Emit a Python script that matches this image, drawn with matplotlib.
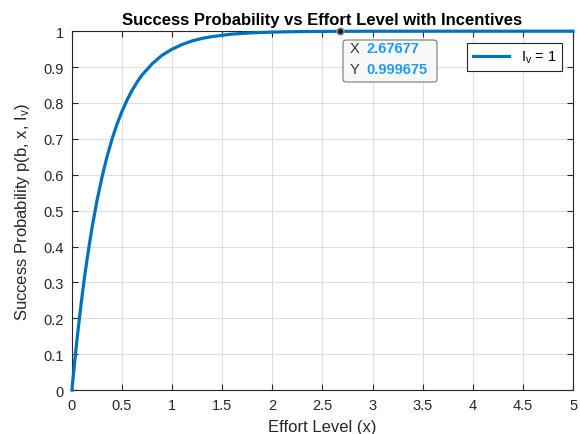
import matplotlib
matplotlib.use("Agg")
import matplotlib.pyplot as plt
from matplotlib.patches import FancyBboxPatch

plt.rcParams['font.family'] = ['Liberation Sans', 'DejaVu Sans']
plt.rcParams['mathtext.default'] = 'regular'

x_vals = [0, 0.0125, 0.025, 0.0375, 0.05, 0.075, 0.1, 0.125, 0.15, 0.175, 0.2, 0.25, 0.3, 0.35,
          0.4, 0.45, 0.5, 0.55, 0.6, 0.65, 0.7, 0.8, 0.9, 1.0, 1.1, 1.2, 1.3, 1.4, 1.6, 1.8,
          2.0, 2.3, 2.67677, 3.0, 3.5, 4.0, 4.5, 5.0]
y_vals = [0, 0.037, 0.072, 0.106, 0.139, 0.201, 0.259, 0.313, 0.362, 0.408, 0.451, 0.528,
          0.593, 0.650, 0.699, 0.741, 0.777, 0.808, 0.835, 0.858, 0.878, 0.909, 0.933, 0.950,
          0.963, 0.973, 0.980, 0.985, 0.992, 0.9955, 0.9975, 0.999, 0.999675, 0.9999, 1.0,
          1.0, 1.0, 1.0]
tip_x = 2.67677
tip_y = 0.999675

fig = plt.figure(figsize=(5.8, 4.35), dpi=100)
ax = fig.add_axes([0.124, 0.101, 0.864, 0.825])
ax.plot(x_vals, y_vals, color='#0072BD', lw=2.3, label='I$_v$ = 1', clip_on=False, zorder=3)
ax.set_xlim(0, 5)
ax.set_ylim(0, 1)
ax.set_xticks([0, 0.5, 1, 1.5, 2, 2.5, 3, 3.5, 4, 4.5, 5])
ax.set_xticklabels(['0', '0.5', '1', '1.5', '2', '2.5', '3', '3.5', '4', '4.5', '5'])
ax.set_yticks([i / 10 for i in range(11)])
ax.set_yticklabels(['0', '0.1', '0.2', '0.3', '0.4', '0.5', '0.6', '0.7', '0.8', '0.9', '1'])
ax.grid(True, color='#dedede', lw=0.8)
ax.set_axisbelow(True)
ax.tick_params(direction='in', length=4, labelsize=10.5, colors='#262626', top=True, right=True,
               labeltop=False, labelright=False, pad=6)
for s in ax.spines.values():
    s.set_color('#262626')
    s.set_linewidth(0.8)
ax.set_xlabel('Effort Level (x)', fontsize=12, color='#262626', labelpad=5)
ax.set_ylabel('Success Probability p(b, x, I$_v$)', fontsize=12, color='#262626', labelpad=8)
ax.set_title('Success Probability vs Effort Level with Incentives', fontsize=12,
             fontweight='bold', pad=5)

leg = ax.legend(loc='upper right', bbox_to_anchor=(0.993, 0.987), fontsize=10.5,
                fancybox=False, edgecolor='#262626', framealpha=1, handlelength=2.5)
leg.get_frame().set_linewidth(0.8)

ax.plot([tip_x], [tip_y], 'o', ms=5, mfc='#222222', mec='#999999', clip_on=False, zorder=5)
box = FancyBboxPatch((343 / 580, 1 - 83 / 435), 94 / 580, 42 / 435,
                     boxstyle='round,pad=0,rounding_size=0.006', transform=fig.transFigure,
                     fc='#f8f8f8', ec='#777777', lw=0.8, zorder=6, clip_on=False)
ax.add_patch(box)
tip_items = [('X ', '#333333', 'normal', 7, -12), ('2.67677', '#1a9cff', 'bold', 19, -12),
             ('Y ', '#333333', 'normal', 7, -27), ('0.999675', '#1a9cff', 'bold', 19, -27)]
for txt, col, wt, dx, dy in tip_items:
    ax.annotate(txt, (tip_x, tip_y), xytext=(dx, dy), textcoords='offset points',
                fontsize=10.5, color=col, fontweight=wt, va='center', ha='left', zorder=7)

fig.savefig('out.png', dpi=100)
